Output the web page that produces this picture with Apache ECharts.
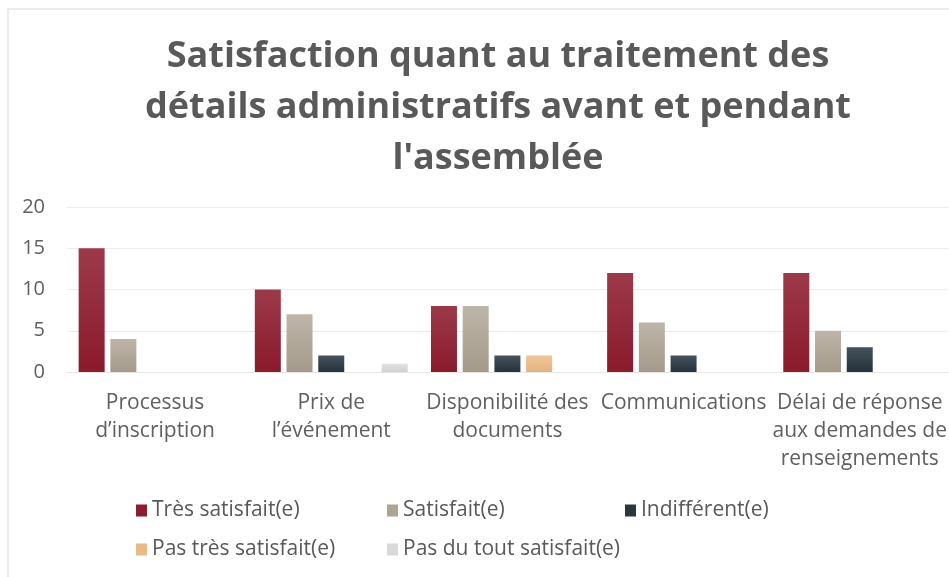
<!DOCTYPE html>
<html>
<head>
<meta charset="utf-8">
<script src="https://cdn.jsdelivr.net/npm/echarts@6/dist/echarts.min.js"></script>
<style>
  html, body { margin: 0; padding: 0; background: #fff; }
  #chart { width: 949px; height: 577px; }
</style>
</head>
<body>
<div id="chart"></div>
<script>
const categories = [
  'Processus\nd\u2019inscription',
  'Prix de\nl\u2019\u00e9v\u00e9nement',
  'Disponibilit\u00e9 des\ndocuments',
  'Communications',
  'D\u00e9lai de r\u00e9ponse\naux demandes de\nrenseignements'
]
const seriesNames = [
  'Tr\u00e8s satisfait(e)',
  'Satisfait(e)',
  'Indiff\u00e9rent(e)',
  'Pas tr\u00e8s satisfait(e)',
  'Pas du tout satisfait(e)'
]
const tresSatisfait = [15, 10, 8, 12, 12]
const satisfait = [4, 7, 8, 6, 5]
const indifferent = [0, 2, 2, 2, 3]
const pasTresSatisfait = [0, 0, 2, 0, 0]
const pasDuToutSatisfait = [0, 1, 0, 0, 0]
const yTicks = [0, 5, 10, 15, 20]

const seriesData = [tresSatisfait, satisfait, indifferent, pasTresSatisfait, pasDuToutSatisfait]

const grad = (top, bottom) => new echarts.graphic.LinearGradient(0, 0, 0, 1, [
  { offset: 0, color: top },
  { offset: 1, color: bottom }
])
const barColors = [
  grad('#9c3a4a', '#8a1a2c'),
  grad('#bdb5a8', '#a49a8a'),
  grad('#45525b', '#26323a'),
  grad('#efc79a', '#e3b27c'),
  grad('#e2e2e2', '#d0d0d0')
]
const legendColors = ['#8c1d30', '#ada495', '#2c3840', '#e8bb85', '#d8d8d8']

// legend placement mimics the Excel layout (3 + 2 items)
const legendSpots = [
  { left: 136, top: 500 },
  { left: 387, top: 500 },
  { left: 625, top: 500 },
  { left: 136, top: 539 },
  { left: 387, top: 539 }
]

const chart = echarts.init(document.getElementById('chart'))

const option = {
  animation: false,
  backgroundColor: '#fff',
  graphic: [{
    type: 'rect',
    shape: { x: 8, y: 9, width: 960, height: 580 },
    style: { fill: 'none', stroke: '#e6e6e6', lineWidth: 1.5 },
    silent: true,
    z: -1
  }],
  title: {
    text: "Satisfaction quant au traitement des\nd\u00e9tails administratifs avant et pendant\nl'assembl\u00e9e",
    left: 493,
    textAlign: 'center',
    top: 26,
    textStyle: {
      fontFamily: 'Open Sans',
      fontWeight: 'bold',
      fontSize: 36,
      lineHeight: 51,
      color: '#595959'
    }
  },
  legend: legendSpots.map((spot, i) => ({
    data: [{ name: seriesNames[i], itemStyle: { color: legendColors[i] } }],
    left: spot.left,
    top: spot.top,
    padding: 0,
    itemWidth: 11,
    itemHeight: 12,
    itemGap: 0,
    icon: 'rect',
    selectedMode: false,
    textStyle: {
      fontFamily: 'Open Sans',
      fontSize: 21,
      color: '#595959'
    }
  })),
  grid: {
    left: 67,
    right: -8,
    top: 207,
    bottom: 205,
    containLabel: false
  },
  xAxis: {
    type: 'category',
    data: categories,
    axisLine: { show: true, lineStyle: { color: '#e8e8e8', width: 1 } },
    axisTick: { show: false },
    axisLabel: {
      interval: 0,
      margin: 17,
      fontFamily: 'Open Sans',
      fontSize: 21,
      lineHeight: 28,
      color: '#606060'
    }
  },
  yAxis: {
    type: 'value',
    min: yTicks[0],
    max: yTicks[yTicks.length - 1],
    interval: 5,
    axisLine: { show: false },
    axisTick: { show: false },
    splitLine: { lineStyle: { color: '#ececec', width: 1 } },
    axisLabel: {
      margin: 22,
      fontFamily: 'Open Sans',
      fontSize: 20,
      color: '#606060'
    }
  },
  series: seriesNames.map((name, i) => ({
    name,
    type: 'bar',
    data: seriesData[i],
    barWidth: 26,
    barGap: '22%',
    itemStyle: { color: barColors[i] }
  }))
}

chart.setOption(option)
</script>
</body>
</html>
